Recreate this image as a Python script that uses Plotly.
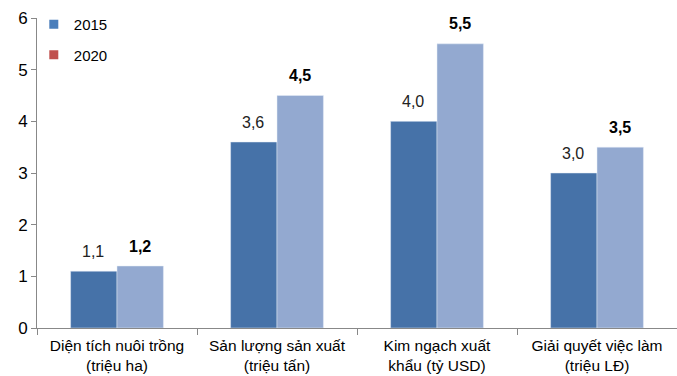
import plotly.graph_objects as go

categories = ["Diện tích nuôi trồng<br>(triệu ha)", "Sản lượng sản xuất<br>(triệu tấn)",
              "Kim ngạch xuất<br>khẩu (tỷ USD)", "Giải quyết việc làm<br>(triệu LĐ)"]
v2015 = [1.1, 3.6, 4.0, 3.0]
v2020 = [1.2, 4.5, 5.5, 3.5]
lbl2015 = ["1,1", "3,6", "4,0", "3,0"]
lbl2020 = ["<b>1,2</b>", "<b>4,5</b>", "<b>5,5</b>", "<b>3,5</b>"]

font = "Liberation Sans, Arial, sans-serif"
fig = go.Figure()
fig.add_trace(go.Bar(x=categories, y=v2015, marker_color="#4672A8", showlegend=False))
fig.add_trace(go.Bar(x=categories, y=v2020, marker_color="#93A9D0", showlegend=False))
fig.add_trace(go.Scatter(x=[None], y=[None], name="2015", mode="markers", legendgroup="a",
                         marker=dict(symbol="square", size=9, color="#4A7EBB")))
fig.add_trace(go.Scatter(x=[None], y=[None], name="2020", mode="markers", legendgroup="b",
                         marker=dict(symbol="square", size=9, color="#C0504D")))

for c, v, t in zip(categories, v2015, lbl2015):
    fig.add_annotation(x=c, y=v, text=t, showarrow=False, xshift=-24, yshift=20,
                       font=dict(size=16, color="#222"))
for c, v, t in zip(categories, v2020, lbl2020):
    fig.add_annotation(x=c, y=v, text=t, showarrow=False, xshift=23, yshift=20,
                       font=dict(size=16, color="#000"))

fig.update_layout(
    width=677, height=376, margin=dict(l=37, r=0, t=18, b=48),
    plot_bgcolor="white", paper_bgcolor="white",
    barmode="group", bargap=0.42, bargroupgap=0,
    font=dict(family=font, size=15, color="#000"),
    legend=dict(x=-0.005, y=1.032, xanchor="left", yanchor="top", bgcolor="rgba(0,0,0,0)",
                font=dict(size=15), tracegroupgap=8, itemwidth=30),
)
fig.update_yaxes(range=[0, 6], dtick=1, showline=True, linecolor="#888", linewidth=1,
                 ticks="outside", ticklen=5, tickcolor="#888", showgrid=False,
                 zeroline=False, tickfont=dict(size=17), tickformat="d")
fig.update_xaxes(showline=True, linecolor="#888", linewidth=1, ticks="outside",
                 tickson="boundaries", ticklen=6, tickcolor="#888", showgrid=False,
                 tickfont=dict(size=15.5), ticklabelstandoff=3, automargin=False)
fig.write_html("out.html")
